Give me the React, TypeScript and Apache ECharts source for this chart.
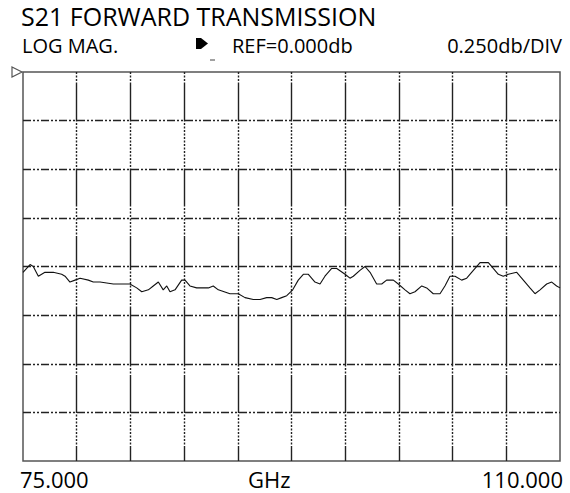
import React, { useEffect, useRef } from "react";
import * as echarts from "echarts";

// ---- data ----
const freqGHz = [
  75.0, 75.46, 75.67, 76.0, 76.43, 76.97, 77.52, 77.74, 78.06, 78.39, 78.72, 79.26, 79.58, 80.02,
  80.89, 81.97, 82.41, 82.74, 83.17, 83.49, 83.82, 84.14, 84.37, 84.58, 84.91, 85.34, 85.56, 85.88,
  86.32, 87.08, 87.4, 87.73, 88.49, 89.03, 89.47, 90.01, 90.45, 90.88, 91.21, 91.54, 91.86, 92.19,
  92.58, 92.94, 93.27, 93.6, 94.03, 94.36, 94.68, 95.12, 95.45, 95.99, 96.31, 96.53, 96.96, 97.29,
  97.62, 98.05, 98.38, 98.7, 99.14, 99.46, 99.9, 100.22, 100.55, 100.99, 101.31, 101.74, 102.18,
  102.5, 102.83, 103.16, 103.59, 103.92, 104.24, 104.79, 105.33, 105.65, 105.98, 106.3, 106.63,
  107.18, 107.61, 108.04, 108.37, 108.7, 109.13, 109.46, 109.78, 110.0,
];
const s21dB = [
  -1.03, -0.99, -1.0, -1.05, -1.03, -1.03, -1.04, -1.05, -1.08, -1.07, -1.06, -1.07, -1.08, -1.08,
  -1.09, -1.09, -1.11, -1.13, -1.12, -1.1, -1.08, -1.12, -1.1, -1.13, -1.12, -1.07, -1.07, -1.1,
  -1.11, -1.11, -1.1, -1.12, -1.14, -1.14, -1.16, -1.17, -1.17, -1.16, -1.16, -1.17, -1.16, -1.15,
  -1.12, -1.07, -1.04, -1.04, -1.08, -1.09, -1.05, -1.01, -1.01, -1.04, -1.06, -1.05, -1.02, -1.0,
  -1.03, -1.09, -1.09, -1.07, -1.07, -1.09, -1.12, -1.14, -1.13, -1.1, -1.11, -1.14, -1.14, -1.1,
  -1.05, -1.05, -1.07, -1.06, -1.03, -0.98, -0.98, -1.01, -1.04, -1.05, -1.04, -1.03, -1.07, -1.11,
  -1.14, -1.12, -1.09, -1.08, -1.1, -1.11,
];
const freqRange = [75, 110];
const refRange = [-2, 0];
const dbPerDiv = 0.25;
const xDivisions = 10;
const titleText = "S21 FORWARD TRANSMISSION";
const headerTexts = ["LOG MAG.", "REF=0.000db", "0.250db/DIV"];
const xLabels = ["75.000", "GHz", "110.000"];

// ---- style helpers ----
const vPattern: [string, number][] = [
  ["d", 11], ["s", 37], ["d", 49], ["s", 36], ["d", 30], ["s", 32],
  ["d", 40], ["s", 58], ["d", 12], ["s", 36], ["d", 35], ["s", 14],
];
function buildVDash(): number[] {
  const arr: number[] = [];
  for (const [t, L] of vPattern) {
    if (t === "s") arr.push(L, 0);
    else {
      const n = Math.round(L / 3.5);
      for (let i = 0; i < n; i++) arr.push(2, 1.5);
    }
  }
  return arr;
}

const G = { left: 23, top: 72, width: 537, height: 389 };
const FONT = "'Open Sans', 'Noto Sans', sans-serif";

export default function App() {
  const ref = useRef<HTMLDivElement>(null);
  useEffect(() => {
    if (!ref.current) return;
    const chart = echarts.init(ref.current, null, { renderer: "svg" });
    const data = freqGHz.map((f, i) => [f, s21dB[i]]);
    const hdr = (text: string, pos: any) => ({
      type: "text", top: 34, ...pos,
      style: { text, font: `20px ${FONT}`, lineHeight: 22, fill: "#000" },
    });
    const lbl = (text: string, pos: any) => ({
      type: "text", top: 466, ...pos,
      style: { text, font: `22px ${FONT}`, lineHeight: 25, fill: "#000" },
    });
    chart.setOption({
      animation: false,
      backgroundColor: "#fff",
      grid: {
        left: G.left, top: G.top, width: G.width, height: G.height,
        show: true, borderColor: "#555", borderWidth: 1.5, backgroundColor: "transparent",
      },
      xAxis: [
        {
          type: "value", min: freqRange[0], max: freqRange[1], show: false,
        },
        {
          type: "value", min: 0, max: xDivisions, interval: 1,
          axisLine: { show: false }, axisTick: { show: false }, axisLabel: { show: false },
          splitLine: {
            show: true, showMinLine: false, showMaxLine: false,
            lineStyle: { color: "#222", width: 1.4, type: buildVDash() },
          },
        },
      ],
      yAxis: {
        type: "value", min: refRange[0], max: refRange[1], interval: dbPerDiv,
        axisLine: { show: false }, axisTick: { show: false }, axisLabel: { show: false },
        splitLine: {
          show: true, showMinLine: false, showMaxLine: false,
          lineStyle: { color: "#222", width: 1.4, type: [8, 2, 2, 2, 2, 2] },
        },
      },
      series: [
        {
          type: "line", xAxisIndex: 0, data, showSymbol: false, symbol: "none",
          lineStyle: { color: "#111", width: 1.1 }, z: 5,
        },
      ],
      graphic: [
        {
          type: "text", left: 21, top: 2,
          style: { text: titleText, font: `25px ${FONT}`, lineHeight: 28, fill: "#000" },
        },
        hdr(headerTexts[0], { left: 22 }),
        hdr(headerTexts[1], { left: 232 }),
        hdr(headerTexts[2], { right: 8 }),
        {
          type: "polygon",
          shape: { points: [[196, 38], [201, 38], [208, 43.5], [201, 49], [196, 49]] },
          style: { fill: "#000" },
        },
        { type: "line", shape: { x1: 210, y1: 60, x2: 215, y2: 60 }, style: { stroke: "#444", lineWidth: 1 } },
        {
          type: "polygon",
          shape: { points: [[12, 67], [22, 72], [12, 77]] },
          style: { fill: "#fff", stroke: "#555", lineWidth: 1.2 },
        },
        lbl(xLabels[0], { left: 20 }),
        lbl(xLabels[1], { left: 248 }),
        lbl(xLabels[2], { right: 7 }),
      ],
    });
    return () => chart.dispose();
  }, []);
  return (
    <div
      ref={ref}
      style={{ position: "absolute", left: 0, top: 0, width: 570, height: 493 }}
    />
  );
}
